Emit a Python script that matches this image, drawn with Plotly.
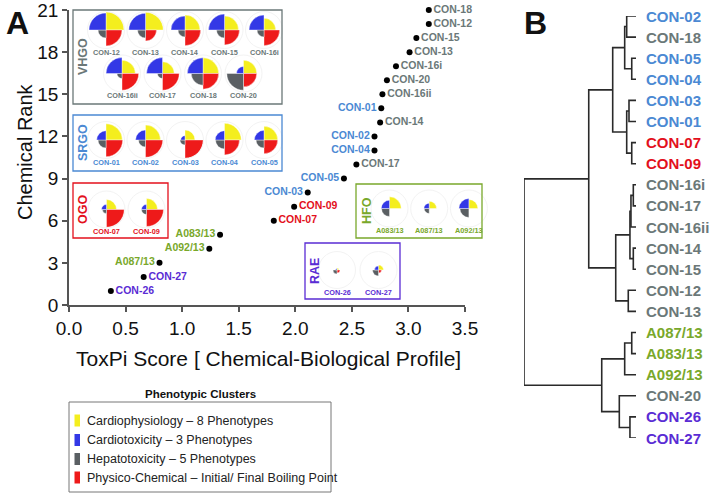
import plotly.graph_objects as go

W, H = 711, 493

# ---------------- data: panel A scatter ----------------
chemicals = ["CON-26", "CON-27", "A087/13", "A092/13", "A083/13", "CON-07", "CON-09",
             "CON-03", "CON-05", "CON-17", "CON-04", "CON-02", "CON-14", "CON-01",
             "CON-16ii", "CON-20", "CON-16i", "CON-13", "CON-15", "CON-12", "CON-18"]
toxpi_score = [0.37, 0.66, 0.80, 1.24, 1.335, 1.81, 1.99, 2.11, 2.43, 2.54, 2.70, 2.70,
               2.75, 2.76, 2.77, 2.81, 2.89, 3.01, 3.07, 3.18, 3.18]
chemical_rank = [1, 2, 3, 4, 5, 6, 7, 8, 9, 10, 11, 12, 13, 14, 15, 16, 17, 18, 19, 20, 21]
chemical_group = ["RAE", "RAE", "HFO", "HFO", "HFO", "OGO", "OGO", "SRGO", "SRGO", "VHGO",
                  "SRGO", "SRGO", "VHGO", "SRGO", "VHGO", "VHGO", "VHGO", "VHGO", "VHGO",
                  "VHGO", "VHGO"]

group_colors = {"VHGO": "#6b7878", "SRGO": "#4b89d3", "OGO": "#e3101c",
                "HFO": "#79a82b", "RAE": "#5a2cd4"}
label_left_groups = ["SRGO", "HFO"]

# ---------------- data: ToxPi glyph slices ----------------
glyph_chemicals = ["CON-12", "CON-13", "CON-14", "CON-15", "CON-16i", "CON-16ii", "CON-17",
                   "CON-18", "CON-20", "CON-01", "CON-02", "CON-03", "CON-04", "CON-05",
                   "CON-07", "CON-09", "A083/13", "A087/13", "A092/13", "CON-26", "CON-27"]
slice_cardiophysiology = [18.0, 17.7, 15.0, 14.0, 11.7, 13.3, 11.7, 15.7, 13.3, 16.3, 15.0,
                          10.0, 16.7, 13.7, 10.0, 11.0, 11.7, 7.3, 9.0, 2.0, 5.0]
slice_physico_chemical = [16.0, 11.0, 15.7, 15.0, 15.7, 16.7, 16.7, 15.7, 13.3, 16.7, 17.3,
                          18.3, 15.0, 13.7, 17.7, 17.0, 0.0, 0.0, 0.0, 3.0, 3.0]
slice_hepatotoxicity = [8.0, 8.0, 7.0, 8.0, 7.0, 5.0, 5.0, 11.7, 16.7, 8.0, 7.0, 5.0, 9.0,
                        8.0, 4.0, 5.0, 8.0, 5.0, 9.0, 4.0, 6.0]
slice_cardiotoxicity = [17.0, 16.7, 14.0, 16.0, 15.0, 16.0, 16.0, 15.7, 7.0, 9.3, 10.0, 4.3,
                        9.3, 9.7, 5.0, 5.0, 8.3, 5.3, 10.0, 1.5, 4.0]
slice_names = ["Cardiophysiology – 8 Phenotypes", "Cardiotoxicity – 3 Phenotypes",
               "Hepatotoxicity – 5 Phenotypes", "Physico-Chemical – Initial/ Final Boiling Point"]
slice_colors = {"Cardiophysiology": "#f4ee1e", "Cardiotoxicity": "#3338e6",
                "Hepatotoxicity": "#5a5f63", "Physico-Chemical": "#ee1a1a"}

# ---------------- data: panel B dendrogram ----------------
dendro_leaves = ["CON-02", "CON-18", "CON-05", "CON-04", "CON-03", "CON-01", "CON-07",
                 "CON-09", "CON-16i", "CON-17", "CON-16ii", "CON-14", "CON-15", "CON-12",
                 "CON-13", "A087/13", "A083/13", "A092/13", "CON-20", "CON-26", "CON-27"]
dendro_leaf_group = ["SRGO", "VHGO", "SRGO", "SRGO", "SRGO", "SRGO", "OGO", "OGO", "VHGO",
                     "VHGO", "VHGO", "VHGO", "VHGO", "VHGO", "VHGO", "HFO", "HFO", "HFO",
                     "VHGO", "RAE", "RAE"]
dendro_merges = [  # (child a, child b, distance)
    ("CON-02", "CON-18", 0.083), ("CON-05", "CON-04", 0.038), ("m0", "m1", 0.101),
    ("CON-03", "CON-01", 0.0625), ("CON-07", "CON-09", 0.038), ("m3", "m4", 0.083),
    ("m2", "m5", 0.208), ("CON-16i", "CON-17", 0.024), ("m7", "CON-16ii", 0.045),
    ("CON-14", "CON-15", 0.024), ("m8", "m9", 0.054), ("CON-12", "CON-13", 0.069),
    ("m10", "m11", 0.181), ("m6", "m12", 0.422), ("A087/13", "A083/13", 0.038),
    ("m14", "A092/13", 0.101), ("CON-26", "CON-27", 0.054), ("CON-20", "m16", 0.149),
    ("m15", "m17", 0.306), ("m13", "m18", 1.0),
]

# ---------------- layout helpers (pixel -> paper) ----------------
def px(x):
    return x / W


def py(y):
    return 1 - y / H


FONT = "Liberation Sans, Arial, sans-serif"
fig = go.Figure()
fig.update_layout(template="none")

# ---------------- panel A scatter ----------------
txt_pos = ["middle left" if g in label_left_groups else "middle right" for g in chemical_group]
txt_col = [group_colors[g] for g in chemical_group]
fig.add_trace(go.Scatter(
    x=toxpi_score, y=chemical_rank, mode="markers+text", text=chemicals,
    textposition=txt_pos, textfont=dict(family=FONT, size=10.5, color=txt_col, weight="bold"),
    marker=dict(color="black", size=6), cliponaxis=False, showlegend=False,
    xaxis="x", yaxis="y"))

axis_common = dict(showline=True, linecolor="#555", linewidth=1.5, ticks="outside",
                   ticklen=5, tickcolor="#555", tickwidth=1.5, showgrid=False, zeroline=False,
                   automargin=False, ticklabeloverflow="allow",
                   tickfont=dict(family=FONT, size=19, color="#111"))
fig.update_layout(
    xaxis=dict(domain=[px(69), px(465)], range=[0, 3.5], tickvals=[0, 0.5, 1, 1.5, 2, 2.5, 3, 3.5],
               tickformat=".1f", anchor="y", **axis_common),
    yaxis=dict(domain=[py(305), py(10)], range=[0, 21], tickvals=[0, 3, 6, 9, 12, 15, 18, 21],
               anchor="x", **axis_common),
    xaxis2=dict(domain=[px(524), px(636)], range=[1.0, 0.0], visible=False, anchor="y2",
                automargin=False),
    yaxis2=dict(domain=[py(438), py(16)], range=[20, 0], visible=False, anchor="x2",
                automargin=False),
)

annotations = []
shapes = []


def note(text, x, y, size, color="#111", angle=0, xanchor="center"):
    annotations.append(dict(text=text, x=px(x), y=py(y), xref="paper", yref="paper",
                            xanchor=xanchor, yanchor="middle", textangle=angle,
                            showarrow=False, font=dict(family=FONT, size=size, color=color)))


# axis titles & panel letters
note("Chemical Rank", 25, 152, 20, angle=-90)
note("ToxPi Score [ Chemical-Biological Profile]", 268, 358, 21)
note("<b>A</b>", 17, 23, 32)
note("<b>B</b>", 535, 23, 32)

# ---------------- inset boxes with ToxPi glyphs ----------------
inset_boxes = [  # group, x0, y0, x1, y1, title x, title y
    ("VHGO", 73, 10, 282, 104, 83, 57),
    ("SRGO", 73, 115, 282, 171, 83, 143),
    ("OGO", 73, 183, 168, 238, 83, 210),
    ("HFO", 356, 184, 482, 238, 367, 211),
    ("RAE", 305, 243, 400, 299, 315, 271),
]
for g, x0, y0, x1, y1, tx, ty in inset_boxes:
    shapes.append(dict(type="rect", xref="paper", yref="paper", x0=px(x0), x1=px(x1),
                       y0=py(y1), y1=py(y0), line=dict(color=group_colors[g], width=1.3),
                       fillcolor="rgba(0,0,0,0)"))
    note(f"<b>{g}</b>", tx, ty, 12.5, color=group_colors[g], angle=-90)

inset_rows = [  # group, members, first centre x, step, centre y
    ("VHGO", ["CON-12", "CON-13", "CON-14", "CON-15", "CON-16i"], 106, 39.5, 30),
    ("VHGO", ["CON-16ii", "CON-17", "CON-18", "CON-20"], 122, 40.5, 73.5),
    ("SRGO", ["CON-01", "CON-02", "CON-03", "CON-04", "CON-05"], 106, 39.5, 140),
    ("OGO", ["CON-07", "CON-09"], 106.5, 40, 209.5),
    ("HFO", ["A083/13", "A087/13", "A092/13"], 389.5, 39.7, 208.5),
    ("RAE", ["CON-26", "CON-27"], 337, 41.5, 270),
]
RMAX = 18.5
pidx = 0
for g, members, cx0, step, cy in inset_rows:
    for k, name in enumerate(members):
        cx = cx0 + k * step
        i = glyph_chemicals.index(name)
        pidx += 1
        key = "polar" if pidx == 1 else f"polar{pidx}"
        fig.add_trace(go.Barpolar(
            r=[slice_cardiophysiology[i], slice_physico_chemical[i],
               slice_hepatotoxicity[i], slice_cardiotoxicity[i]],
            theta=[45, 135, 225, 315], width=[90, 90, 90, 90],
            marker=dict(color=[slice_colors["Cardiophysiology"], slice_colors["Physico-Chemical"],
                               slice_colors["Hepatotoxicity"], slice_colors["Cardiotoxicity"]],
                        line=dict(width=0.4, color="white")),
            subplot=key, showlegend=False, hoverinfo="skip"))
        fig.layout[key] = dict(
            domain=dict(x=[px(cx - RMAX), px(cx + RMAX)], y=[py(cy + RMAX), py(cy - RMAX)]),
            bgcolor="rgba(0,0,0,0)",
            radialaxis=dict(range=[0, RMAX], visible=False),
            angularaxis=dict(direction="clockwise", rotation=90, showline=True,
                             linecolor="#f3f3f3", linewidth=1, showticklabels=False,
                             ticks="", showgrid=False))
        note(f"<b>{name}</b>", cx, cy + 22, 7.3, color=group_colors[g])

# ---------------- legend ----------------
shapes.append(dict(type="rect", xref="paper", yref="paper", x0=px(69), x1=px(331), y0=py(492),
                   y1=py(402), line=dict(color="#777", width=1), fillcolor="white"))
note("<b>Phenotypic Clusters</b>", 200, 394, 11.5)
legend_colors = [slice_colors["Cardiophysiology"], slice_colors["Cardiotoxicity"],
                 slice_colors["Hepatotoxicity"], slice_colors["Physico-Chemical"]]
legend_y = [420.5, 440, 459, 477.5]
for name, col, ly in zip(slice_names, legend_colors, legend_y):
    shapes.append(dict(type="rect", xref="paper", yref="paper", x0=px(74.5), x1=px(80),
                       y0=py(ly + 6), y1=py(ly - 6), line=dict(width=0), fillcolor=col))
    note(name, 85, ly, 12.5, color="#222", xanchor="left")

# ---------------- panel B dendrogram ----------------
node_y = {leaf: float(i) for i, leaf in enumerate(dendro_leaves)}
node_h = {leaf: 0.0 for leaf in dendro_leaves}
lx, ly_ = [], []
for m, (a, b, d) in enumerate(dendro_merges):
    ya, yb = node_y[a], node_y[b]
    lx += [node_h[a], d, d, node_h[b], None]
    ly_ += [ya, ya, yb, yb, None]
    node_y[f"m{m}"] = (ya + yb) / 2
    node_h[f"m{m}"] = d
fig.add_trace(go.Scatter(x=lx, y=ly_, mode="lines", line=dict(color="#2a2a2a", width=1.6),
                         xaxis="x2", yaxis="y2", showlegend=False, hoverinfo="skip"))
for i, (leaf, g) in enumerate(zip(dendro_leaves, dendro_leaf_group)):
    annotations.append(dict(text=f"<b>{leaf}</b>", x=0, y=i, xref="x2", yref="y2",
                            xanchor="left", yanchor="middle", xshift=8, showarrow=False,
                            font=dict(family=FONT, size=15, color=group_colors[g])))

fig.update_layout(width=W, height=H, autosize=False,
                  margin=dict(l=0, r=0, t=0, b=0, pad=0, autoexpand=False),
                  paper_bgcolor="white", plot_bgcolor="white", showlegend=False,
                  annotations=annotations, shapes=shapes)

fig.write_html("out.html", config={"displayModeBar": False},
               post_script="document.body.style.margin='0';document.body.style.overflow='hidden';")
